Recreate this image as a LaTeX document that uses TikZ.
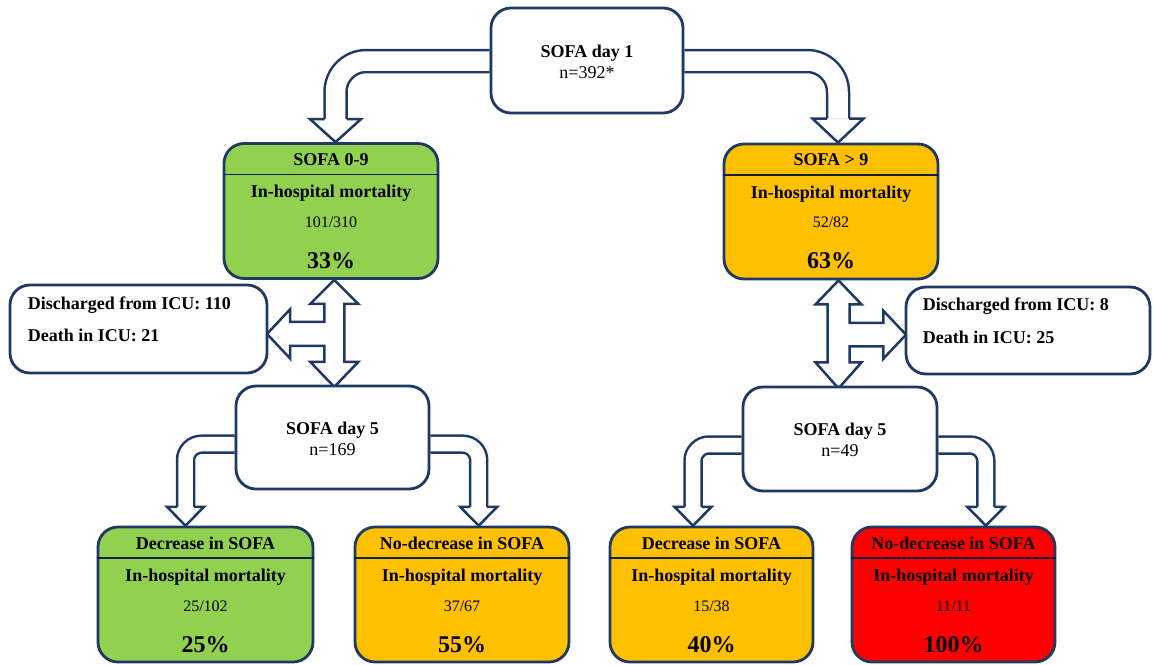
\documentclass[tikz,border=0pt]{standalone}
\usepackage{fontspec}
\setmainfont{Liberation Serif}
\usetikzlibrary{calc}
\definecolor{navy}{RGB}{31,56,100}
\definecolor{lgreen}{RGB}{146,208,80}
\definecolor{amber}{RGB}{255,192,0}
\definecolor{bred}{RGB}{255,0,0}
\pgfdeclarelayer{background}
\pgfsetlayers{background,main}
\tikzset{
 box/.style={draw=navy, line width=2.8pt, rounded corners=20pt, fill=white, inner sep=0pt},
 res/.style={box, minimum height=135pt},
 bt/.style={font=\fontsize{18}{21}\selectfont\bfseries, inner sep=0pt, text height=11.9pt, text depth=0pt},
 nt/.style={font=\fontsize{18}{21}\selectfont, inner sep=0pt, text height=11.9pt, text depth=0pt},
 ft/.style={font=\fontsize{16}{19}\selectfont, inner sep=0pt, text height=10.6pt, text depth=0pt},
 pctt/.style={font=\fontsize{24}{28}\selectfont\bfseries, inner sep=0pt, text height=15.8pt, text depth=0pt},
 sepline/.style={draw=navy!60!black, line width=1.3pt},
 blkA/.style={draw=navy, line width=2.5pt, double=white, double distance=19.5pt},
 blkB/.style={draw=navy, line width=2.5pt, double=white, double distance=14.5pt},
 headst/.style={draw=navy, fill=white, line width=2.5pt, line join=miter},
 pics/hdown/.style args={#1/#2/#3}{code={\filldraw[headst] (-#1,0) -- (-#2,0) -- (0,#3) -- (#2,0) -- (#1,0);}}
}
\begin{document}
\begin{tikzpicture}[x=1pt,y=-1pt]
\useasboundingbox (0,0) rectangle (1153,664);

% ---------- top box ----------
\node[box, minimum width=192pt, minimum height=105pt] (top) at (587,60.5) {};
\node[bt] (topa) at ($(top.center)+(0,-8.5)$) {SOFA day 1};
\node[nt] (topb) at ($(top.center)+(0,12.5)$) {n=392*};

% ---------- SOFA 0-9 ----------
\node[res, minimum width=214pt, fill=lgreen] (g1) at (331,211) {};
\node[bt] (g1t) at ($(g1.north)+(0,17)$) {SOFA 0-9};
\draw[sepline] ($(g1.north west)+(0,32.5)$) -- ($(g1.north east)+(0,32.5)$);
\node[bt] (g1m) at ($(g1.north)+(0,49.5)$) {In-hospital mortality};
\node[ft] (g1f) at ($(g1.north)+(0,80)$) {101/310};
\node[pctt] (g1p) at ($(g1.north)+(0,118)$) {33\%};

% ---------- SOFA > 9 ----------
\node[res, minimum width=214pt, fill=amber] (o1) at (831,211.5) {};
\node[bt] (o1t) at ($(o1.north)+(0,17)$) {SOFA > 9};
\draw[sepline] ($(o1.north west)+(0,32.5)$) -- ($(o1.north east)+(0,32.5)$);
\node[bt] (o1m) at ($(o1.north)+(0,49.5)$) {In-hospital mortality};
\node[ft] (o1f) at ($(o1.north)+(0,80)$) {52/82};
\node[pctt] (o1p) at ($(o1.north)+(0,118)$) {63\%};

% ---------- discharged boxes ----------
\node[box, minimum width=257pt, minimum height=88pt] (dl) at (138.5,329) {};
\node[bt, anchor=west] (dla) at ($(dl.north west)+(19,20)$) {Discharged from ICU: 110};
\node[bt, anchor=west] (dlb) at ($(dl.north west)+(19,52)$) {Death in ICU: 21};

\node[box, minimum width=244pt, minimum height=87pt] (dr) at (1028,330.5) {};
\node[bt, anchor=west] (dra) at ($(dr.north west)+(18,18.5)$) {Discharged from ICU: 8};
\node[bt, anchor=west] (drb) at ($(dr.north west)+(18,51.5)$) {Death in ICU: 25};

% ---------- SOFA day 5 ----------
\node[box, minimum width=193pt, minimum height=103pt] (d5l) at (332.5,437.5) {};
\node[bt] (d5la) at ($(d5l.center)+(0,-9.2)$) {SOFA day 5};
\node[nt] (d5lb) at ($(d5l.center)+(0,11.8)$) {n=169};

\node[box, minimum width=194pt, minimum height=104pt] (d5r) at (840,439) {};
\node[bt] (d5ra) at ($(d5r.center)+(0,-9.7)$) {SOFA day 5};
\node[nt] (d5rb) at ($(d5r.center)+(0,12)$) {n=49};

% ---------- bottom boxes ----------
\node[res, minimum width=215pt, fill=lgreen] (b1) at (205.5,594.5) {};
\node[bt] (b1t) at ($(b1.north)+(0,17.5)$) {Decrease in SOFA};
\draw[sepline] ($(b1.north west)+(0,32.5)$) -- ($(b1.north east)+(0,32.5)$);
\node[bt] (b1m) at ($(b1.north)+(0,50)$) {In-hospital mortality};
\node[ft] (b1f) at ($(b1.north)+(0,81)$) {25/102};
\node[pctt] (b1p) at ($(b1.north)+(0,119)$) {25\%};

\node[res, minimum width=214pt, fill=amber] (b2) at (462,594.5) {};
\node[bt] (b2t) at ($(b2.north)+(0,17.5)$) {No-decrease in SOFA};
\draw[sepline] ($(b2.north west)+(0,32.5)$) -- ($(b2.north east)+(0,32.5)$);
\node[bt] (b2m) at ($(b2.north)+(0,50)$) {In-hospital mortality};
\node[ft] (b2f) at ($(b2.north)+(0,81)$) {37/67};
\node[pctt] (b2p) at ($(b2.north)+(0,119)$) {55\%};

\node[res, minimum width=203pt, fill=amber] (b3) at (711.5,594.5) {};
\node[bt] (b3t) at ($(b3.north)+(0,17.5)$) {Decrease in SOFA};
\draw[sepline] ($(b3.north west)+(0,32.5)$) -- ($(b3.north east)+(0,32.5)$);
\node[bt] (b3m) at ($(b3.north)+(0,50)$) {In-hospital mortality};
\node[ft] (b3f) at ($(b3.north)+(0,81)$) {15/38};
\node[pctt] (b3p) at ($(b3.north)+(0,119)$) {40\%};

\node[res, minimum width=203pt, fill=bred] (b4) at (953.5,594.5) {};
\node[bt] (b4t) at ($(b4.north)+(0,17.5)$) {No-decrease in SOFA};
\draw[sepline] ($(b4.north west)+(0,32.5)$) -- ($(b4.north east)+(0,32.5)$);
\node[bt] (b4m) at ($(b4.north)+(0,50)$) {In-hospital mortality};
\node[ft] (b4f) at ($(b4.north)+(0,81)$) {11/11};
\node[pctt] (b4p) at ($(b4.north)+(0,119)$) {100\%};

% ---------- connectors ----------
\begin{pgfonlayer}{background}
\coordinate (c1) at ($(g1.north)+(4.5,-23)$);
\coordinate (c2) at ($(o1.north)+(7,-24)$);
\draw[blkA, rounded corners=31pt] ($(top.west)+(0,0.5)$) -| (c1);
\pic at (c1) {hdown={11/25.5/23}};
\draw[blkA, rounded corners=31pt] ($(top.east)+(0,0.5)$) -| (c2);
\pic at (c2) {hdown={11/25.5/24}};

\coordinate (c3) at ($(b1.north)+(-20,-18.7)$);
\coordinate (c4) at ($(b2.north)+(16.7,-18.7)$);
\coordinate (c5) at ($(b3.north)+(-18.5,-18.7)$);
\coordinate (c6) at ($(b4.north)+(32.3,-18.7)$);
\draw[blkB, rounded corners=16pt] ($(d5l.west)+(0,6.7)$) -| (c3);
\pic at (c3) {hdown={8.5/18.5/18.7}};
\draw[blkB, rounded corners=16pt] ($(d5l.east)+(0,6.7)$) -| (c4);
\pic at (c4) {hdown={8.5/18.5/18.7}};
\draw[blkB, rounded corners=16pt] ($(d5r.west)+(0,6)$) -| (c5);
\pic at (c5) {hdown={8.5/18.5/18.7}};
\draw[blkB, rounded corners=16pt] ($(d5r.east)+(0,6)$) -| (c6);
\pic at (c6) {hdown={8.5/18.5/18.7}};

% composite arrow left
\filldraw[headst, shift={(g1.south)}]
 (3.3,0) -- (27.3,24) -- (13.3,24) -- (13.3,82) -- (27.3,82) -- (3.3,107)
 -- (-20.7,82) -- (-6.7,82) -- (-6.7,66) -- (-41,66) -- (-41,78.5) -- (-64,54)
 -- (-41,29.5) -- (-41,42) -- (-6.7,42) -- (-6.7,24) -- (-20.7,24) -- cycle;
% composite arrow right
\filldraw[headst, shift={(o1.south)}]
 (7.5,0) -- (30.5,24) -- (18.5,24) -- (18.5,42.5) -- (52.3,42.5) -- (52.3,30.3)
 -- (75,54.3) -- (52.3,78.3) -- (52.3,66) -- (18.5,66) -- (18.5,82) -- (30.5,82)
 -- (7.5,108) -- (-15.5,82) -- (-3.5,82) -- (-3.5,24) -- (-15.5,24) -- cycle;
\end{pgfonlayer}
\end{tikzpicture}
\end{document}
